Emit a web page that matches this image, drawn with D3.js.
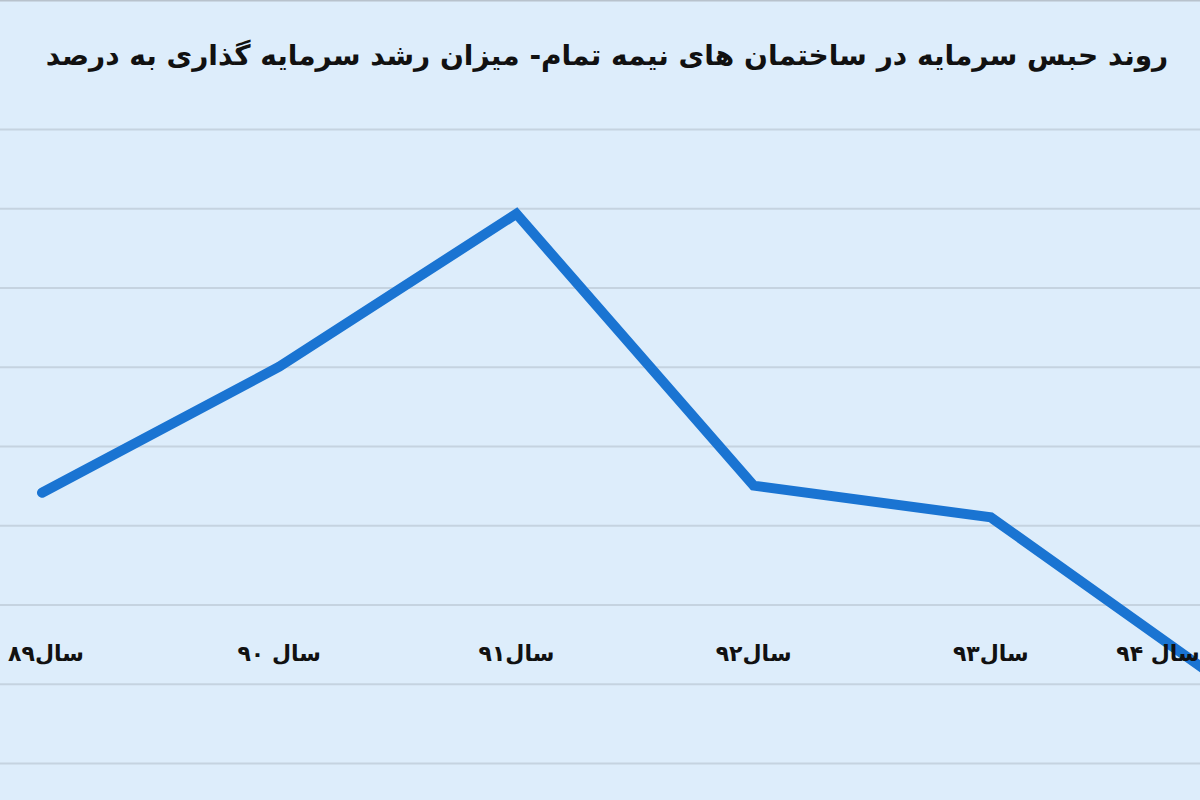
<!DOCTYPE html>
<html><head><meta charset="utf-8">
<script src="https://cdn.jsdelivr.net/npm/d3@7/dist/d3.min.js"></script>
<style>
html,body{margin:0;padding:0;background:#ddedfb;}
svg{display:block;}
</style></head>
<body>
<svg id="chart" width="1200" height="800"></svg>
<script>
const title = "روند حبس سرمایه در ساختمان های نیمه تمام- میزان رشد سرمایه گذاری به درصد";
const categories = ["سال۸۹", "سال ۹۰", "سال۹۱", "سال۹۲", "سال۹۳", "سال ۹۴"];
const values = [3.41, 5.0, 6.93, 3.5, 3.1, 0.97];
const gridTicks = [0, 1, 2, 3, 4, 5, 6, 7, 8];

const W = 1200, H = 800;
const svg = d3.select("#chart");
svg.append("rect").attr("width", W).attr("height", H).attr("fill", "#ddedfb");
svg.append("line").attr("x1",0).attr("x2",W).attr("y1",0.5).attr("y2",0.5)
  .attr("stroke","#b8c2cc").attr("stroke-width",2);

const x = d3.scalePoint().domain(categories).range([42, 1228]);
const y = d3.scaleLinear().domain([0, 8]).range([763, 129]);

// gridlines
const yAxis = d3.axisLeft(y).tickValues(gridTicks).tickSize(-W).tickFormat("");
const gy = svg.append("g").call(yAxis);
gy.select(".domain").remove();
gy.selectAll(".tick line").attr("stroke", "#c5d3e0").attr("stroke-width", 2);

// title
const t = svg.append("text")
  .attr("x", 607).attr("y", 65)
  .attr("text-anchor", "middle")
  .attr("direction", "rtl")
  .attr("font-family", "'DejaVu Sans', sans-serif")
  .attr("font-weight", "bold")
  .attr("font-size", 26)
  .attr("fill", "#111")
  .text(title);
const tw = t.node().getComputedTextLength();
if (tw > 0) t.attr("font-size", 26 * 1123 / tw);

// line
const line = d3.line().x((d, i) => x(categories[i])).y(d => y(d));
svg.append("path").datum(values)
  .attr("d", line)
  .attr("fill", "none")
  .attr("stroke", "#1a74d2")
  .attr("stroke-width", 10)
  .attr("stroke-linejoin", "miter")
  .attr("stroke-linecap", "round");

// category labels (kept inside the picture at the edges)
svg.append("g").selectAll("text").data(categories).join("text")
  .attr("x", d => Math.max(46, Math.min(x(d), 1158)))
  .attr("y", 661)
  .attr("text-anchor", "middle")
  .attr("direction", "rtl")
  .attr("font-family", "'DejaVu Sans', sans-serif")
  .attr("font-weight", "bold")
  .attr("font-size", 22)
  .attr("fill", "#111")
  .text(d => d);
</script>
</body></html>
